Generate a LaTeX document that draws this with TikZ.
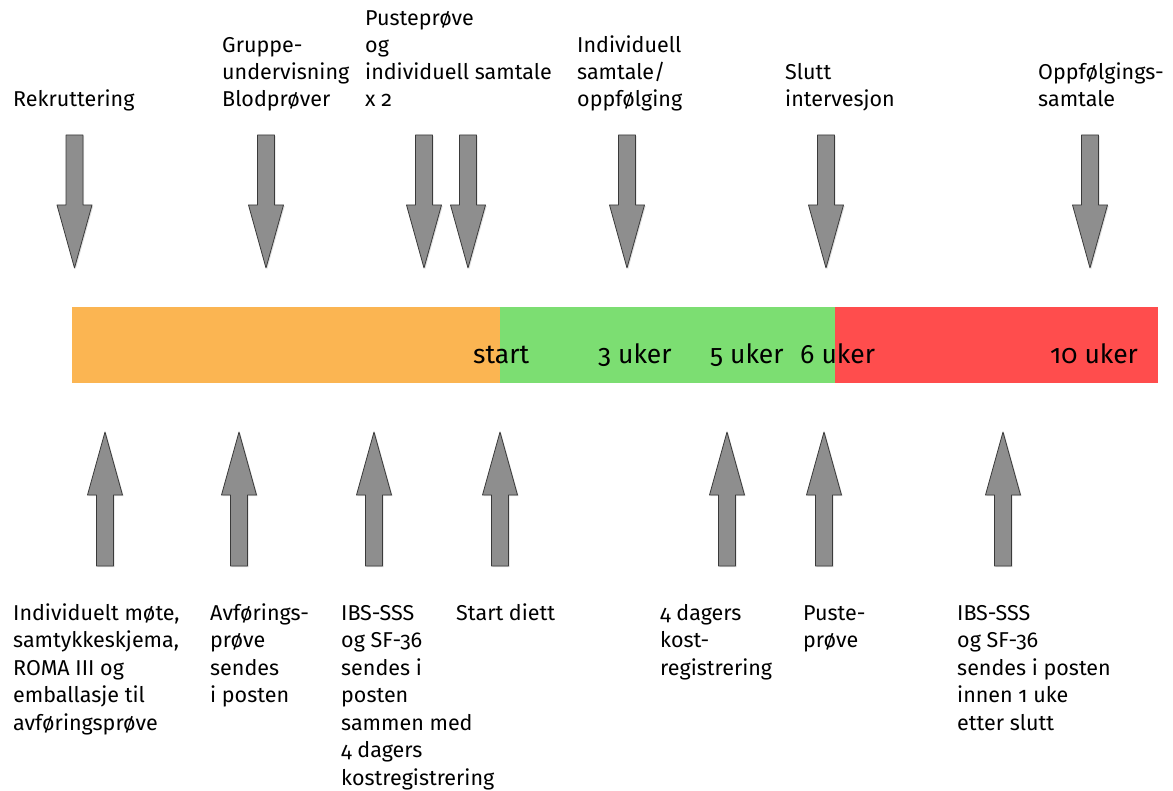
\documentclass[tikz,border=0pt]{standalone}
\usepackage{fontspec}
\setmainfont{Fira Sans}[Numbers=OldStyle]
\usetikzlibrary{shadows}
\definecolor{barorange}{HTML}{FBB552}
\definecolor{bargreen}{HTML}{7CDE72}
\definecolor{barred}{HTML}{FF4D4D}
\definecolor{arrgray}{HTML}{8E8E8E}
\definecolor{arredge}{HTML}{3A3A3A}
\tikzset{
  arrowshape/.style={fill=arrgray, draw=arredge, line width=0.8pt, line join=round,
    drop shadow={opacity=0.25, shadow xshift=1.2pt, shadow yshift=-1.2pt}},
  toplabel/.style={anchor=base west, inner sep=0pt, align=left, font=\fontsize{21.5}{27}\selectfont},
  botlabel/.style={anchor=base west, inner sep=0pt, align=left, font=\fontsize{21.5}{27.5}\selectfont},
  barlabel/.style={anchor=base west, inner sep=0pt, font=\fontsize{26.5}{30}\selectfont},
  segment/.style={draw=none, minimum height=76pt, inner sep=0pt, anchor=north west}
}
\newcommand{\downarrowat}[2]{%
  \path[arrowshape] (#1-8.5,135) -- (#1+8.5,135) -- (#1+8.5,205) -- (#1+17.5,205) -- (#1,268) -- (#1-17.5,205) -- (#1-8.5,205) -- cycle;
  \coordinate (#2) at (#1,268);}
\newcommand{\uparrowat}[2]{%
  \path[arrowshape] (#1-8.5,566) -- (#1+8.5,566) -- (#1+8.5,495) -- (#1+17.5,495) -- (#1,432) -- (#1-17.5,495) -- (#1-8.5,495) -- cycle;
  \coordinate (#2) at (#1,432);}
\begin{document}
\begin{tikzpicture}[x=1pt,y=-1pt]
\path[fill=white] (0,0) rectangle (1173,791);
\useasboundingbox (0,0) rectangle (1173,791);

% timeline bar
\node[segment, fill=barorange, minimum width=428pt] (orange) at (72,307) {};
\node[segment, fill=bargreen, minimum width=335pt] (green) at (500,307) {};
\node[segment, fill=barred, minimum width=323pt] (red) at (835,307) {};

\node[barlabel] (lstart) at (473,364) {start};
\node[barlabel] (l3) at (598,364) {3 uker};
\node[barlabel] (l5) at (710,364) {5 uker};
\node[barlabel] (l6) at (800,364) {6 uker};
\node[barlabel] (l10) at (1050,364) {10 uker};

% top arrows
\downarrowat{74.5}{d1}
\downarrowat{266}{d2}
\downarrowat{424}{d3}
\downarrowat{468}{d4}
\downarrowat{627}{d5}
\downarrowat{826}{d6}
\downarrowat{1090}{d7}

% bottom arrows
\uparrowat{105}{u1}
\uparrowat{239}{u2}
\uparrowat{374}{u3}
\uparrowat{500}{u4}
\uparrowat{727}{u5}
\uparrowat{824}{u6}
\uparrowat{1003}{u7}

% top labels (anchored at the baseline of the last line)
\node[toplabel] (t1) at (13,107) {Rekruttering};
\node[toplabel] (t2) at (222,107) {Gruppe-\\undervisning\\Blodprøver};
\node[toplabel] (t3) at (365,107) {Pusteprøve\\og\\individuell samtale\\x 2};
\node[toplabel] (t4) at (577,107) {Individuell\\samtale/\\oppfølging};
\node[toplabel] (t5) at (785,107) {Slutt\\intervesjon};
\node[toplabel] (t6) at (1038,107) {Oppfølgings-\\samtale};

% bottom labels (anchored at the baseline of the last line; first line at 620)
\node[botlabel] (b1) at (13,730) {Individuelt møte,\\samtykkeskjema,\\ROMA III og\\emballasje til\\avføringsprøve};
\node[botlabel] (b2) at (210,702.5) {Avførings-\\prøve\\sendes\\i posten};
\node[botlabel] (b3) at (341,785) {IBS-SSS\\og SF-36\\sendes i\\posten\\sammen med\\4 dagers\\kostregistrering};
\node[botlabel] (b4) at (456,620) {Start diett};
\node[botlabel] (b5) at (660,675) {4 dagers\\kost-\\registrering};
\node[botlabel] (b6) at (803,647.5) {Puste-\\prøve};
\node[botlabel] (b7) at (957,730) {IBS-SSS\\og SF-36\\sendes i posten\\innen 1 uke\\etter slutt};
\end{tikzpicture}
\end{document}
